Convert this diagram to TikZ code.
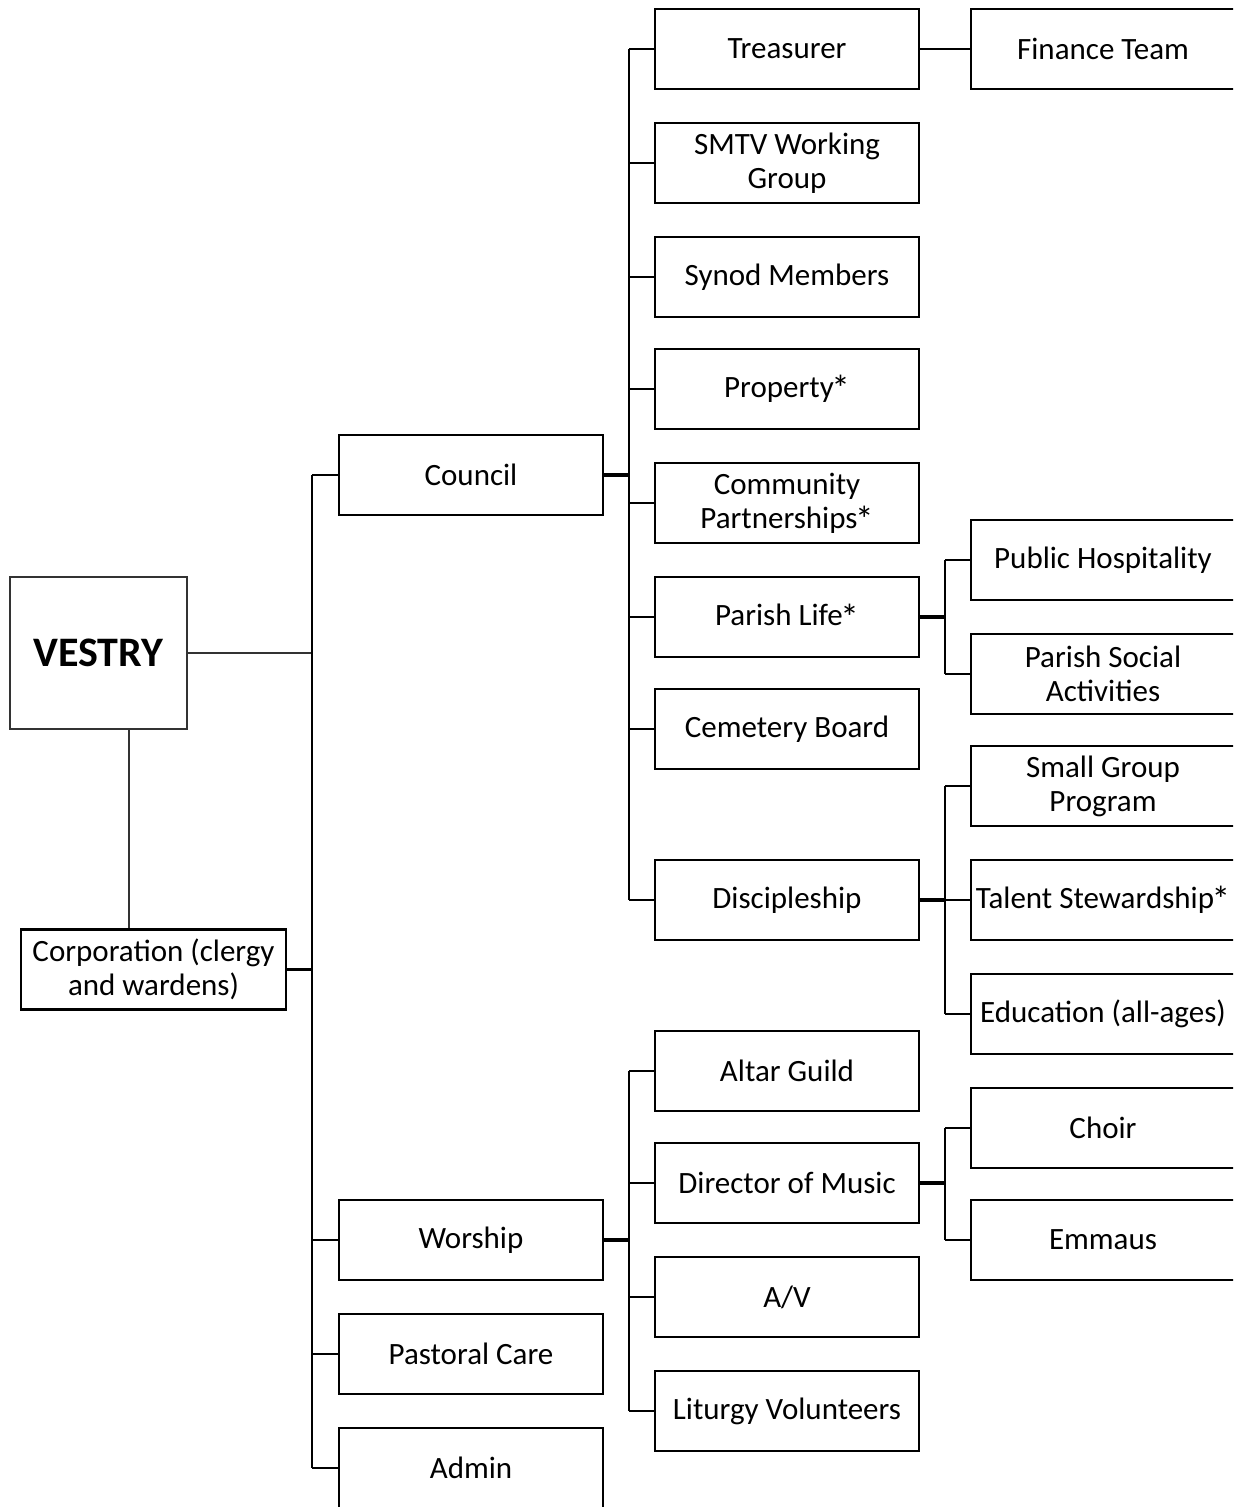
\documentclass[tikz,border=0pt]{standalone}
\usepackage{fontspec}
\setmainfont{Carlito}
\newcommand\astr{\kern-0.08em\raisebox{-0.3ex}{\scalebox{1.2}{*}}}
\begin{document}
\begin{tikzpicture}[x=0.5pt,y=-0.5pt,
  box/.style={draw=black,line width=1.1pt,fill=white,inner sep=0pt,
    minimum width=132pt,minimum height=40pt,align=center,
    font=\fontsize{15.5}{17}\selectfont},
  conn/.style={draw=black,line width=1.4pt},
  thin/.style={draw=black!80,line width=0.6pt}]
\useasboundingbox (0,0) rectangle (1233,1507);
\clip (0,0) rectangle (1233,1507);
% trunk coordinates
\coordinate (ta) at (312,0);
\coordinate (tb) at (629,0);
\coordinate (tc) at (945,0);
% level 1
\node[draw=black!80,line width=0.6pt,fill=white,inner sep=0pt,minimum width=88.5pt,minimum height=76pt,
  font=\fontsize{21}{25}\selectfont\bfseries] (vestry) at (98.5,653) {VESTRY};
\node[box,minimum width=132.5pt] (corp) at (153.5,969.5) {Corporation (clergy\\and wardens)};
% level 2
\node[box] (council) at (471,475) {Council};
\node[box] (worship) at (471,1240) {Worship};
\node[box] (pastoral) at (471,1354) {Pastoral Care};
\node[box] (admin) at (471,1468) {Admin};
% level 3 (council)
\node[box] (treas) at (787,49) {Treasurer};
\node[box] (smtv) at (787,163) {SMTV Working\\Group};
\node[box] (synod) at (787,277) {Synod Members};
\node[box] (prop) at (787,389) {Property\astr};
\node[box] (comm) at (787,503) {Community\\Partnerships\astr};
\node[box] (plife) at (787,617) {Parish Life\astr};
\node[box] (cem) at (787,729) {Cemetery Board};
\node[box] (disc) at (787,900) {Discipleship};
% level 3 (worship)
\node[box] (altar) at (787,1071) {Altar Guild};
\node[box] (music) at (787,1183) {Director of Music};
\node[box] (av) at (787,1297) {A/V};
\node[box] (lit) at (787,1411) {Liturgy Volunteers};
% level 4
\node[box] (fin) at (1103,49) {Finance Team};
\node[box] (pubh) at (1103,560) {Public Hospitality};
\node[box] (psoc) at (1103,674) {Parish Social\\Activities};
\node[box] (small) at (1103,786) {Small Group\\Program};
\node[box] (talent) at (1103,900) {Talent Stewardship\astr};
\node[box] (edu) at (1103,1014) {Education (all-ages)};
\node[box] (choir) at (1103,1128) {Choir};
\node[box] (emm) at (1103,1240) {Emmaus};
% connectors from vestry
\draw[thin] (vestry.east) -- (vestry.east -| ta);
\draw[thin] (vestry.south -| 129,0) -- (corp.north -| 129,0);
% main trunk
\draw[conn,line width=1.6pt] (corp.east) -- (corp.east -| ta);
\draw[conn] (council.west -| ta) -- (admin.west -| ta);
\foreach \n in {council,worship,pastoral,admin}
  \draw[conn] (\n.west -| ta) -- (\n.west);
% council trunk
\draw[conn,line width=1.8pt] (council.east) -- (council.east -| tb);
\draw[conn] (treas.west -| tb) -- (disc.west -| tb);
\foreach \n in {treas,smtv,synod,prop,comm,plife,cem,disc}
  \draw[conn] (\n.west -| tb) -- (\n.west);
% worship trunk
\draw[conn,line width=1.8pt] (worship.east) -- (worship.east -| tb);
\draw[conn] (altar.west -| tb) -- (lit.west -| tb);
\foreach \n in {altar,music,av,lit}
  \draw[conn] (\n.west -| tb) -- (\n.west);
% level 4 connectors
\draw[conn] (treas.east) -- (fin.west);
\draw[conn,line width=1.8pt] (plife.east) -- (plife.east -| tc);
\draw[conn] (pubh.west -| tc) -- (psoc.west -| tc);
\draw[conn] (pubh.west -| tc) -- (pubh.west);
\draw[conn] (psoc.west -| tc) -- (psoc.west);
\draw[conn,line width=1.8pt] (disc.east) -- (disc.east -| tc);
\draw[conn] (small.west -| tc) -- (edu.west -| tc);
\foreach \n in {small,talent,edu}
  \draw[conn] (\n.west -| tc) -- (\n.west);
\draw[conn,line width=1.8pt] (music.east) -- (music.east -| tc);
\draw[conn] (choir.west -| tc) -- (emm.west -| tc);
\draw[conn] (choir.west -| tc) -- (choir.west);
\draw[conn] (emm.west -| tc) -- (emm.west);
\end{tikzpicture}
\end{document}
